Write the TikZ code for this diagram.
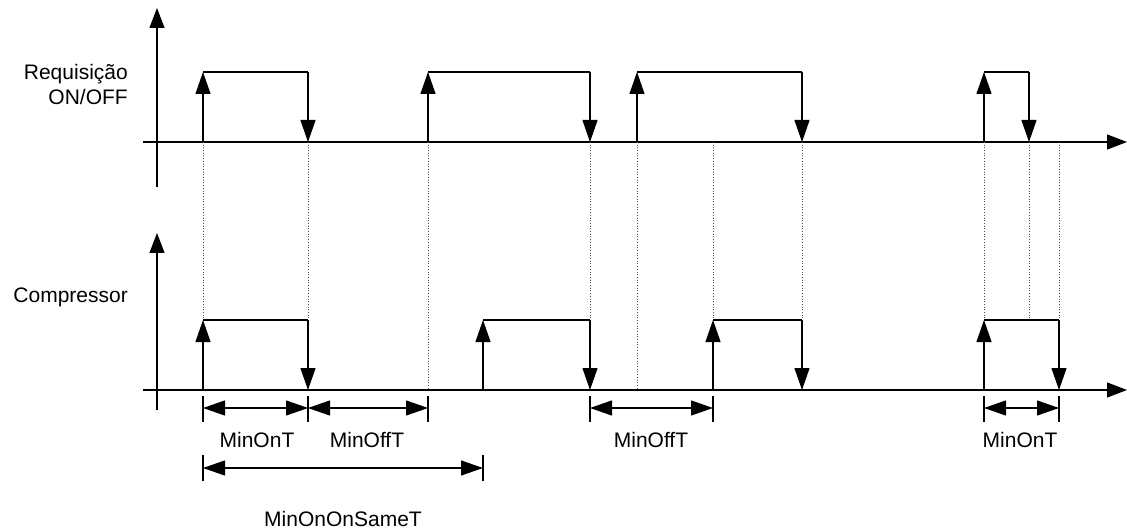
\documentclass[tikz,border=0pt]{standalone}
\usepackage{fontspec}
\setmainfont{Liberation Sans}
\usetikzlibrary{arrows.meta}
\begin{document}
\begin{tikzpicture}[x=1pt,y=-1pt,
  sig/.style={line width=1.1pt,black},
  axis/.style={line width=1.1pt,black,-{Triangle[length=20pt,width=15pt]}},
  edge/.style={line width=1.1pt,black,-{Triangle[length=22pt,width=15pt]}},
  dimarr/.style={line width=1.1pt,black,{Triangle[length=22pt,width=15pt]}-{Triangle[length=22pt,width=15pt]}},
  tick/.style={line width=1.1pt,black},
  guide/.style={line width=0.7pt,black!70,dotted},
  lbl/.style={font=\fontsize{21}{25}\selectfont,inner sep=0pt}]
\useasboundingbox (0,0) rectangle (1127,529);
% axes
\coordinate (a1l) at (143,142); \coordinate (a1r) at (1127,142);
\coordinate (v1b) at (157,187); \coordinate (v1t) at (157,8);
\coordinate (a2l) at (143,390); \coordinate (a2r) at (1127,390);
\coordinate (v2b) at (157,410); \coordinate (v2t) at (157,233);
\draw[axis] (a1l) -- (a1r);
\draw[axis] (v1b) -- (v1t);
\draw[axis] (a2l) -- (a2r);
\draw[axis] (v2b) -- (v2t);
% labels
\node[lbl,anchor=base east] (req) at (128,80) {Requisição};
\node[lbl,anchor=base east] (onoff) at (128,105) {ON/OFF};
\node[lbl,anchor=base east] (comp) at (128,302) {Compressor};
% guides
\foreach \x in {203,308,590,713,802,984,1029,1059}
  \draw[guide] (\x,142) -- (\x,320);
\foreach \x in {428,637}
  \draw[guide] (\x,142) -- (\x,390);
% top pulses
\foreach \a/\b in {203/308,428/590,637/802,984/1029}{
  \draw[edge] (\a,142) -- (\a,72);
  \draw[sig] (\a,72) -- (\b,72);
  \draw[edge] (\b,72) -- (\b,142);
}
% compressor pulses
\foreach \a/\b in {203/308,483/590,713/802,984/1059}{
  \draw[edge] (\a,390) -- (\a,320);
  \draw[sig] (\a,320) -- (\b,320);
  \draw[edge] (\b,320) -- (\b,390);
}
% dimension ticks
\foreach \x in {203,308,428,590,713,984,1059}
  \draw[tick] (\x,396) -- (\x,422);
\foreach \x in {203,483}
  \draw[tick] (\x,455) -- (\x,481);
% dimension arrows
\coordinate (d1) at (203,408); \coordinate (d2) at (308,408); \coordinate (d3) at (428,408);
\coordinate (d4) at (590,408); \coordinate (d5) at (713,408);
\coordinate (d6) at (984,408); \coordinate (d7) at (1059,408);
\coordinate (e1) at (203,468); \coordinate (e2) at (483,468);
\draw[dimarr] (d1) -- (d2);
\draw[dimarr] (d2) -- (d3);
\draw[dimarr] (d4) -- (d5);
\draw[dimarr] (d6) -- (d7);
\draw[dimarr] (e1) -- (e2);
\node[lbl,anchor=base] (l1) at (257,447) {MinOnT};
\node[lbl,anchor=base] (l2) at (367,447) {MinOffT};
\node[lbl,anchor=base] (l3) at (651,447) {MinOffT};
\node[lbl,anchor=base] (l4) at (1020,447) {MinOnT};
\node[lbl,anchor=base] (l5) at (343,526) {MinOnOnSameT};
\end{tikzpicture}
\end{document}
